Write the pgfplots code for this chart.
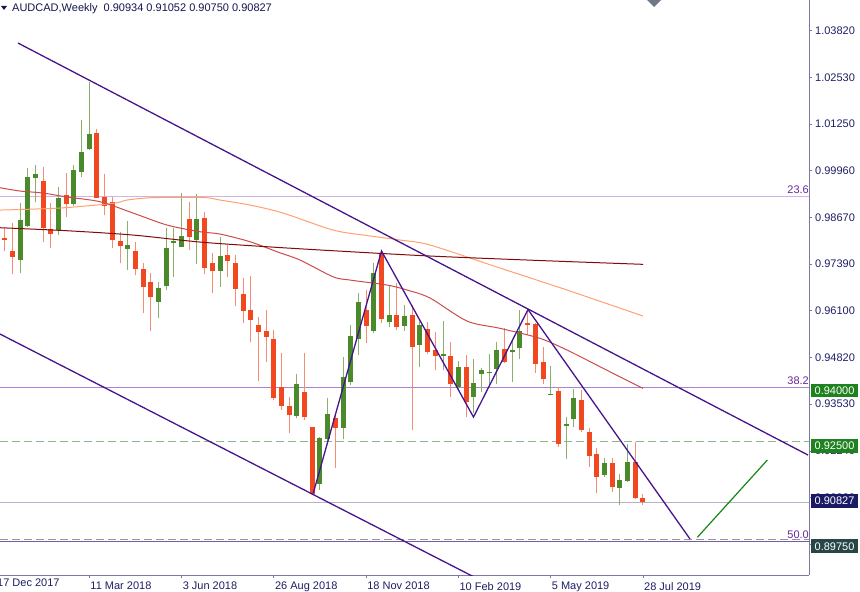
\documentclass[border=0pt]{standalone}
\usepackage{pgfplots}
\pgfplotsset{compat=1.18}
\usepackage{pgfplotstable}
\usepackage{fontspec}
\setmainfont{Liberation Sans}

\definecolor{bodyG}{RGB}{74,138,42}
\definecolor{bodyR}{RGB}{242,72,32}
\definecolor{wickG}{RGB}{140,175,110}
\definecolor{wickR}{RGB}{245,140,115}
\definecolor{maOrange}{RGB}{255,160,110}
\definecolor{maRed}{RGB}{205,75,75}
\definecolor{maMaroon}{RGB}{130,10,10}
\definecolor{indig}{RGB}{70,20,140}
\definecolor{fibA}{RGB}{205,180,228}
\definecolor{fibB}{RGB}{170,130,215}
\definecolor{fibC}{RGB}{120,90,170}
\definecolor{fibtxt}{RGB}{100,40,150}
\definecolor{dashgreen}{RGB}{140,185,140}
\definecolor{curline}{RGB}{180,180,200}
\definecolor{dashgray}{RGB}{150,150,160}
\definecolor{axiscol}{RGB}{125,120,170}
\definecolor{labcol}{RGB}{30,30,100}
\definecolor{greenline}{RGB}{20,135,20}
\definecolor{boxgreen}{RGB}{30,130,30}
\definecolor{boxnavy}{RGB}{25,25,100}
\definecolor{boxslate}{RGB}{40,70,70}
\definecolor{hdrcol}{RGB}{20,20,80}
\definecolor{marker}{RGB}{110,120,135}

\newcommand{\lab}{\fontsize{11}{13}\selectfont}

\pgfplotstableread{
x o h l c
3 0.97500 0.99071 0.97142 0.98603
4 0.98446 1.00036 0.98410 0.99796
5 0.99769 1.00119 0.99099 0.99871
8 0.98327 0.99512 0.98189 0.99217
10 0.99044 1.00119 0.98997 0.99981
11 0.99917 1.01359 0.99796 1.00485
12 1.00560 1.02414 1.00532 1.00981
17 0.97812 0.98575 0.97225 0.97906
21 0.96335 0.96902 0.95894 0.96720
22 0.96792 0.98382 0.96674 0.97823
23 0.97969 0.98391 0.97040 0.98024
24 0.97867 0.99347 0.97859 0.98162
26 0.98052 0.99311 0.97390 0.98630
29 0.97197 0.98143 0.96765 0.97611
39 0.93201 0.94350 0.93138 0.94083
42 0.91319 0.92631 0.91162 0.92603
43 0.92559 0.93689 0.92449 0.93248
45 0.92879 0.94835 0.92559 0.94284
46 0.94146 0.95709 0.94055 0.95406
47 0.95323 0.96583 0.94882 0.96351
49 0.95552 0.97409 0.95480 0.97134
51 0.95783 0.96811 0.95662 0.95993
53 0.95681 0.96260 0.95557 0.95971
55 0.95158 0.95819 0.94551 0.95709
58 0.94863 0.95819 0.94469 0.94910
60 0.94009 0.94725 0.93918 0.94560
62 0.93716 0.94772 0.93275 0.94102
63 0.94350 0.94532 0.93871 0.94469
64 0.94378 0.94901 0.94009 0.94422
65 0.94496 0.95232 0.94083 0.95020
67 0.94965 0.95296 0.94146 0.95020
68 0.95067 0.96122 0.94772 0.95552
72 0.93780 0.94579 0.93770 0.93815
74 0.92934 0.93182 0.92016 0.92981
75 0.93118 0.93937 0.92906 0.93689
79 0.91575 0.92035 0.91528 0.91897
81 0.91208 0.91594 0.90748 0.91437
82 0.91418 0.92429 0.91390 0.91942
}\G

\pgfplotstableread{
x o h l c
1 0.98115 0.98382 0.97748 0.98052
2 0.97757 0.98520 0.97115 0.97575
6 0.99686 1.00063 0.97996 0.98391
7 0.98355 0.99071 0.97831 0.98217
9 0.99292 0.99906 0.98685 0.99044
13 1.01009 1.01111 0.99209 0.99217
14 0.99245 0.99871 0.98741 0.98997
15 0.99107 0.99245 0.97831 0.98052
16 0.98024 0.98280 0.97418 0.97895
18 0.97757 0.97996 0.97087 0.97244
19 0.97244 0.97418 0.96040 0.96765
20 0.96886 0.97142 0.95552 0.96472
25 0.98622 0.99107 0.97776 0.98143
27 0.98658 0.98832 0.97115 0.97288
28 0.97409 0.97693 0.96591 0.97197
30 0.97630 0.97914 0.97040 0.97481
31 0.97426 0.97638 0.96233 0.96693
32 0.96555 0.96996 0.95772 0.96095
33 0.96122 0.97068 0.95232 0.95847
34 0.95709 0.95921 0.94166 0.95524
35 0.95544 0.96122 0.94698 0.95387
36 0.95323 0.95571 0.93642 0.93705
37 0.94009 0.94929 0.93366 0.93485
38 0.93485 0.93733 0.92724 0.93229
40 0.93862 0.94929 0.93091 0.93165
41 0.92890 0.92906 0.91024 0.91043
44 0.93138 0.93275 0.91760 0.92862
48 0.96122 0.96674 0.95205 0.95690
50 0.97685 0.97729 0.95756 0.95883
52 0.95993 0.96858 0.95571 0.95662
54 0.95999 0.96260 0.92815 0.95116
56 0.95590 0.95783 0.94910 0.94973
57 0.95020 0.95524 0.94469 0.94863
59 0.94855 0.95249 0.93733 0.94083
61 0.94551 0.94882 0.93165 0.93595
66 0.95039 0.95618 0.94653 0.94698
69 0.95756 0.96122 0.95433 0.95709
70 0.95728 0.95756 0.94394 0.94626
71 0.94698 0.95094 0.94083 0.94212
73 0.93898 0.94009 0.92355 0.92429
76 0.93642 0.93918 0.92768 0.92815
77 0.92752 0.92862 0.91804 0.92107
78 0.92145 0.92327 0.91071 0.91528
80 0.91906 0.92035 0.91115 0.91253
83 0.91933 0.92493 0.90914 0.90933
84 0.90934 0.91052 0.90750 0.90827
}\R

\begin{document}
\begin{tikzpicture}
\begin{axis}[
  scale only axis, width=809pt, height=575pt,
  xmin=0.39, xmax=105.59, ymin=0.88819, ymax=1.04666,
  axis x line=bottom, axis y line=right,
  axis line style={draw=axiscol, line width=0.8pt, -},
  tick align=outside, major tick length=3pt,
  tick style={draw=axiscol, line width=0.8pt},
  xtick={12,24,36,48,60,72,84},
  xticklabels={11 Mar 2018, 3 Jun 2018, 26 Aug 2018, 18 Nov 2018, 10 Feb 2019, 5 May 2019, 28 Jul 2019},
  ytick={1.0382,1.0253,1.0125,0.9996,0.9867,0.9739,0.9610,0.9482,0.9353,0.9224,0.9096,0.8967},
  yticklabels={1.03820,1.02530,1.01250,0.99960,0.98670,0.97390,0.96100,0.94820,0.93530,0.92240,0.90960,0.89670},
  ticklabel style={font=\lab, text=labcol},
  xticklabel style={anchor=north west, inner sep=0pt, xshift=1pt, yshift=-4pt},
  yticklabel style={anchor=west, inner sep=0pt, xshift=3pt},
  clip mode=individual,
  candle/.style={only marks, mark=*, mark size=0pt, mark options={draw=none, fill=none},
    error bars/.cd, y dir=plus, y explicit, error mark=none},
]
% level lines
\addplot[fibA, line width=1pt, mark=none] coordinates {(0.39,0.9926) (105.59,0.9926)};
\addplot[fibB, line width=1pt, mark=none] coordinates {(0.39,0.94) (105.59,0.94)};
\addplot[fibC, line width=1pt, mark=none] coordinates {(0.39,0.8975) (105.59,0.8975)};
\addplot[dashgreen, line width=1pt, mark=none, dash pattern=on 8pt off 4pt] coordinates {(0.39,0.925) (105.59,0.925)};
\addplot[curline, line width=1pt, mark=none] coordinates {(0.39,0.90827) (105.59,0.90827)};
\addplot[dashgray, line width=1pt, mark=none, dash pattern=on 8pt off 4pt] coordinates {(0.39,0.8980) (105.59,0.8980)};

% wicks
\addplot[candle, error bar style={wickG, line width=1pt}]
  table[x=x, y=l, y error plus expr=\thisrow{h}-\thisrow{l}] {\G};
\addplot[candle, error bar style={wickR, line width=1pt}]
  table[x=x, y=l, y error plus expr=\thisrow{h}-\thisrow{l}] {\R};
% bodies
\addplot[candle, error bar style={bodyG, line width=5pt}]
  table[x=x, y=o, y error plus expr=\thisrow{c}-\thisrow{o}] {\G};
\addplot[candle, error bar style={bodyR, line width=5pt}]
  table[x=x, y=c, y error plus expr=\thisrow{o}-\thisrow{c}] {\R};

% moving averages
\addplot[maOrange, line width=1pt, smooth, mark=none] coordinates {
(0.39,0.98878) (8.19,0.98934) (15.08,0.99063) (16.90,0.99154) (19.90,0.99217) (24.19,0.99228)
(27.31,0.99217) (29.00,0.99154) (32.90,0.99016) (37.19,0.98796) (43.69,0.98327) (48.11,0.98176)
(52.41,0.98052) (56.31,0.97914) (65.41,0.97280) (74.12,0.96674) (84.0,0.95957)};
\addplot[maRed, line width=1pt, smooth, mark=none] coordinates {
(0.39,0.99493) (3.0,0.99402) (5.98,0.99347) (9.10,0.99237) (13.39,0.99107) (17.69,0.98796)
(22.11,0.98465) (26.40,0.98280) (29.0,0.98217) (32.90,0.98005) (36.41,0.97729) (39.40,0.97500)
(43.69,0.97040) (45.90,0.96949) (50.72,0.96811) (53.32,0.96674) (56.31,0.96453) (61.12,0.95819)
(65.41,0.95618) (70.61,0.95342) (74.12,0.95020) (76.72,0.94744) (80.10,0.94378) (84.01,0.93964)};
\addplot[maMaroon, line width=1pt, smooth, mark=none] coordinates {
(0.39,0.98391) (9.10,0.98308) (17.69,0.98189) (26.40,0.97996) (35.11,0.97867) (43.69,0.97757)
(56.31,0.97611) (70.61,0.97487) (84.01,0.97382)};

% trend lines
\addplot[indig, line width=1.3pt, mark=none] coordinates {(2.73,1.03481) (105.46,0.92126)};
\addplot[indig, line width=1.3pt, mark=none] coordinates {(0.39,0.95461) (62.81,0.88681)};
\addplot[indig, line width=1.3pt, mark=none] coordinates {(41.13,0.91079) (50.0,0.97749) (61.96,0.93173) (69.05,0.96136) (90.12,0.89811)};
\addplot[greenline, line width=1.2pt, mark=none] coordinates {(91.07,0.89858) (100.17,0.91988)};

% fib labels
\node[anchor=south east, inner sep=0pt, text=fibtxt, font=\lab, yshift=2pt] at (axis cs:105.59,0.9926) {23.6};
\node[anchor=south east, inner sep=0pt, text=fibtxt, font=\lab, yshift=2pt] at (axis cs:105.59,0.94) {38.2};
\node[anchor=south east, inner sep=0pt, text=fibtxt, font=\lab, yshift=2pt] at (axis cs:105.59,0.8975) {50.0};

\node[anchor=north west, inner sep=0pt, text=labcol, font=\lab, xshift=0pt, yshift=-4pt] at (axis cs:0,0.88819) {17 Dec 2017};
\draw[axiscol, line width=0.8pt] (axis cs:0,0.88819) -- ++(0,-3pt);

\coordinate (b1) at (axis cs:105.59,0.94);
\coordinate (b2) at (axis cs:105.59,0.925);
\coordinate (b3) at (axis cs:105.59,0.90827);
\coordinate (b4) at (axis cs:105.59,0.8975);
\end{axis}

\tikzset{pbox/.style={anchor=west, text=white, font=\lab, inner xsep=3.5pt, inner ysep=0pt, minimum height=13.5pt}}
\node[pbox, fill=boxgreen] at ([xshift=2pt,yshift=-3.5pt]b1) {0.94000};
\node[pbox, fill=boxgreen] at ([xshift=2pt,yshift=-4.5pt]b2) {0.92500};
\node[pbox, fill=boxnavy] at ([xshift=2pt,yshift=1pt]b3) {0.90827};
\node[pbox, fill=boxslate] at ([xshift=2pt,yshift=-5pt]b4) {0.89750};

\node[anchor=base west, inner sep=0pt, text=hdrcol, font=\lab] at (12pt,563pt) {AUDCAD,Weekly\ \ 0.90934 0.91052 0.90750 0.90827};
\fill[hdrcol] (1pt,569pt) -- (7pt,569pt) -- (4pt,565pt) -- cycle;
\fill[marker] (647pt,575pt) -- (661pt,575pt) -- (654pt,568pt) -- cycle;

\pgfresetboundingbox
\path[use as bounding box] (0pt,-17pt) rectangle (860pt,575pt);
\end{tikzpicture}
\end{document}
